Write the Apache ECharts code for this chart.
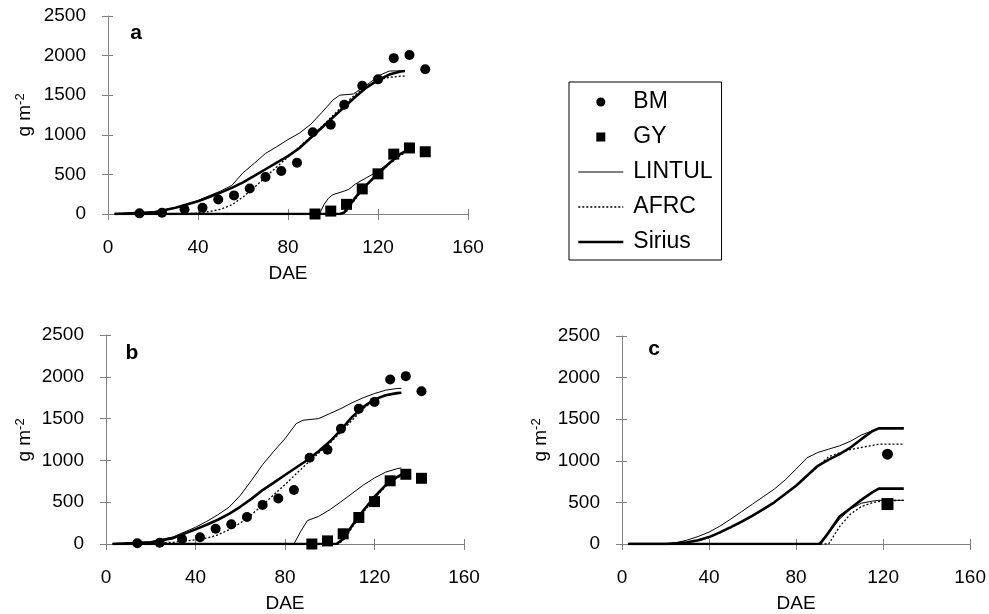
<!DOCTYPE html>
<html>
<head>
<meta charset="utf-8">
<script src="https://cdn.jsdelivr.net/npm/echarts@6/dist/echarts.min.js"></script>
<style>
html,body{margin:0;padding:0;background:#fff;}
#chart{width:989px;height:614px;}
</style>
</head>
<body>
<div id="chart"></div>
<script>
// ---------- Observed data (panels a and b share the same observations) ----------
const obsBM_DAE = [14, 24, 34, 42, 49, 56, 63, 70, 77, 84, 91, 99, 105, 113, 120, 127, 134, 141];
const obsBM = [8, 15, 60, 80, 183, 235, 323, 468, 544, 646, 1032, 1128, 1380, 1619, 1700, 1968, 2008, 1828];
const obsGY_DAE = [92, 99, 106, 113, 120, 127, 134, 141];
const obsGY = [0, 37, 122, 317, 507, 756, 834, 786];
// panel c observations
const cObs_DAE = [122];
const cObsBM = [1080];
const cObsGY = [480];

// ---------- Panel a model curves ----------
const aLintulBM_DAE = [3, 20, 30, 40, 45, 50, 55, 60, 65, 70, 75, 80, 85, 90, 95, 100, 103, 109, 115, 121, 125, 132];
const aLintulBM = [0, 25, 80, 170, 230, 290, 360, 520, 640, 765, 850, 940, 1020, 1130, 1280, 1440, 1500, 1515, 1630, 1755, 1805, 1808];
const aAfrcBM_DAE = [3, 30, 35, 40, 45, 50, 55, 60, 65, 70, 75, 80, 85, 90, 95, 100, 105, 110, 115, 120, 125, 130, 132];
const aAfrcBM = [0, 0, 5, 12, 30, 60, 115, 215, 335, 465, 595, 720, 845, 970, 1105, 1245, 1385, 1510, 1615, 1690, 1725, 1740, 1742];
const aSiriusBM_DAE = [3, 20, 30, 40, 45, 50, 55, 60, 65, 70, 75, 80, 85, 90, 95, 100, 105, 110, 115, 120, 125, 130, 132];
const aSiriusBM = [0, 20, 80, 160, 215, 270, 330, 400, 480, 565, 650, 730, 830, 960, 1090, 1220, 1350, 1480, 1600, 1690, 1760, 1800, 1805];
const aLintulGY_DAE = [3, 94, 96, 98, 100, 104, 107, 110, 115, 120, 125, 130, 132];
const aLintulGY = [0, 0, 120, 200, 245, 280, 310, 380, 460, 540, 650, 760, 800];
const aAfrcGY_DAE = [3, 104, 106, 108, 110, 113, 116, 120, 125, 130, 132];
const aAfrcGY = [0, 0, 30, 110, 190, 300, 390, 500, 630, 740, 770];
const aSiriusGY_DAE = [3, 103, 105, 107, 110, 113, 116, 120, 125, 130, 132];
const aSiriusGY = [0, 0, 20, 100, 210, 310, 400, 510, 640, 760, 790];

// ---------- Panel b model curves ----------
const bLintulBM_DAE = [3, 20, 30, 40, 45, 50, 55, 60, 65, 70, 75, 80, 85, 88, 95, 100, 105, 110, 115, 120, 125, 130, 132];
const bLintulBM = [0, 25, 85, 200, 270, 350, 440, 580, 760, 950, 1110, 1260, 1440, 1480, 1500, 1560, 1620, 1690, 1750, 1800, 1840, 1860, 1862];
const bAfrcBM_DAE = [3, 30, 35, 40, 45, 50, 55, 60, 65, 70, 75, 80, 85, 90, 95, 100, 105, 110, 115, 120, 125, 130, 132];
const bAfrcBM = [0, 20, 35, 50, 70, 110, 170, 250, 350, 465, 590, 710, 840, 965, 1085, 1205, 1340, 1480, 1620, 1720, 1775, 1800, 1802];
const bSiriusBM_DAE = [3, 20, 30, 40, 45, 50, 55, 60, 65, 70, 75, 80, 85, 90, 95, 100, 105, 110, 115, 120, 125, 130, 132];
const bSiriusBM = [0, 20, 70, 175, 230, 290, 360, 445, 540, 645, 735, 825, 915, 1005, 1110, 1225, 1365, 1520, 1640, 1730, 1780, 1805, 1810];
const bLintulGY_DAE = [3, 84, 87, 90, 95, 100, 105, 110, 115, 120, 125, 130, 132];
const bLintulGY = [0, 0, 150, 280, 330, 410, 505, 605, 705, 790, 860, 900, 910];
const bAfrcGY_DAE = [3, 104, 107, 110, 115, 120, 125, 130, 132];
const bAfrcGY = [0, 0, 70, 200, 380, 545, 690, 790, 815];
const bSiriusGY_DAE = [3, 103, 106, 110, 115, 120, 125, 130, 132];
const bSiriusGY = [0, 0, 60, 220, 400, 565, 705, 800, 830];

// ---------- Panel c model curves ----------
const cLintulBM_DAE = [3, 20, 25, 30, 35, 40, 45, 50, 55, 60, 65, 70, 75, 80, 85, 90, 95, 100, 105, 110, 115, 118, 129.5];
const cLintulBM = [0, 0, 16, 48, 90, 143, 215, 300, 390, 480, 570, 660, 770, 900, 1035, 1100, 1140, 1180, 1235, 1310, 1360, 1390, 1390];
const cAfrcBM_DAE = [3, 25, 30, 35, 40, 45, 50, 55, 60, 65, 70, 75, 80, 85, 90, 95, 100, 105, 110, 115, 118, 129.5];
const cAfrcBM = [0, 5, 18, 40, 78, 135, 195, 262, 335, 415, 498, 598, 700, 815, 930, 1050, 1095, 1135, 1160, 1185, 1200, 1200];
const cSiriusBM_DAE = [3, 20, 25, 30, 35, 40, 45, 50, 55, 60, 65, 70, 75, 80, 85, 90, 95, 100, 105, 110, 115, 118, 129.5];
const cSiriusBM = [0, 0, 8, 20, 45, 83, 140, 203, 270, 342, 420, 501, 600, 700, 820, 940, 1015, 1080, 1160, 1260, 1355, 1390, 1390];
const cLintulGY_DAE = [3, 90, 95, 100, 105, 110, 115, 118, 129.5];
const cLintulGY = [0, 0, 130, 300, 420, 490, 515, 525, 525];
const cAfrcGY_DAE = [3, 95, 100, 105, 110, 115, 120, 129.5];
const cAfrcGY = [0, 0, 210, 360, 450, 495, 520, 525];
const cSiriusGY_DAE = [3, 91, 95, 100, 105, 110, 115, 118, 129.5];
const cSiriusGY = [0, 0, 140, 330, 430, 530, 620, 665, 665];

// ---------- Axis ticks ----------
const xTicks = [0, 40, 80, 120, 160];
const yTicks = [0, 500, 1000, 1500, 2000, 2500];
const panelLabels = ['a', 'b', 'c'];
const legendNames = ['BM', 'GY', 'LINTUL', 'AFRC', 'Sirius'];

// ---------- Build chart ----------
const FONT = "'Liberation Sans', Arial, sans-serif";
const AX = '#808080';
const grids = [
  {left: 108, top: 16, width: 360, height: 198},
  {left: 106, top: 335, width: 358, height: 209},
  {left: 622, top: 336, width: 350, height: 209}
];
function pairs(xs, ys) { return xs.map((x, i) => [x, ys[i]]); }

const xAxes = [], yAxes = [];
grids.forEach((g, i) => {
  xAxes.push({
    type: 'value', gridIndex: i, min: xTicks[0], max: xTicks[xTicks.length - 1], interval: 40,
    axisLine: {lineStyle: {color: AX, width: 1}},
    axisTick: {show: true, inside: false, length: 6, lineStyle: {color: AX}},
    splitLine: {show: false},
    axisLabel: {color: '#000', fontSize: 19, fontFamily: FONT, margin: 24, formatter: v => String(v)},
    name: 'DAE', nameLocation: 'middle', nameGap: 50,
    nameTextStyle: {color: '#000', fontSize: 19, fontFamily: FONT}
  });
  yAxes.push({
    type: 'value', gridIndex: i, min: yTicks[0], max: yTicks[yTicks.length - 1], interval: 500,
    axisLine: {show: true, lineStyle: {color: AX, width: 1}},
    axisTick: {show: true, inside: false, length: 6, lineStyle: {color: AX}},
    splitLine: {show: false},
    axisLabel: {color: '#000', fontSize: 19, fontFamily: FONT, margin: 22, formatter: v => String(v)}
  });
});
// inside half of the crossing tick marks
grids.forEach((g, i) => {
  xAxes.push({
    type: 'value', gridIndex: i, min: 0, max: 160, interval: 40, position: 'bottom',
    axisLine: {show: false}, axisLabel: {show: false}, splitLine: {show: false},
    axisTick: {show: true, inside: true, length: 5, lineStyle: {color: AX}}
  });
  yAxes.push({
    type: 'value', gridIndex: i, min: 0, max: 2500, interval: 500, position: 'left',
    axisLine: {show: false}, axisLabel: {show: false}, splitLine: {show: false},
    axisTick: {show: true, inside: true, length: 5, lineStyle: {color: AX}}
  });
});

const thin = {color: '#000', width: 1, type: 'solid'};
const dotted = {color: '#000', width: 1.3, type: [2, 2]};
const thick = {color: '#000', width: 2.6, type: 'solid'};
function line(name, idx, xs, ys, style, z) {
  return {type: 'line', name, xAxisIndex: idx, yAxisIndex: idx, data: pairs(xs, ys),
    symbol: 'none', showSymbol: false, lineStyle: style, itemStyle: {color: '#000'},
    silent: true, z: z, animation: false};
}
function scatter(name, idx, xs, ys, symbol, size) {
  return {type: 'scatter', name, xAxisIndex: idx, yAxisIndex: idx, data: pairs(xs, ys),
    symbol, symbolSize: size, symbolKeepAspect: true, itemStyle: {color: '#000', opacity: 1}, z: 10, silent: true, animation: false};
}

const series = [
  // panel a
  line('LINTUL', 0, aLintulBM_DAE, aLintulBM, thin, 3),
  line('LINTUL', 0, aLintulGY_DAE, aLintulGY, thin, 3),
  line('AFRC', 0, aAfrcBM_DAE, aAfrcBM, dotted, 4),
  line('AFRC', 0, aAfrcGY_DAE, aAfrcGY, dotted, 4),
  line('Sirius', 0, aSiriusBM_DAE, aSiriusBM, thick, 5),
  line('Sirius', 0, aSiriusGY_DAE, aSiriusGY, thick, 5),
  scatter('BM', 0, obsBM_DAE, obsBM, 'circle', 10),
  scatter('GY', 0, obsGY_DAE, obsGY, 'rect', 11),
  // panel b
  line('LINTUL', 1, bLintulBM_DAE, bLintulBM, thin, 3),
  line('LINTUL', 1, bLintulGY_DAE, bLintulGY, thin, 3),
  line('AFRC', 1, bAfrcBM_DAE, bAfrcBM, dotted, 4),
  line('AFRC', 1, bAfrcGY_DAE, bAfrcGY, dotted, 4),
  line('Sirius', 1, bSiriusBM_DAE, bSiriusBM, thick, 5),
  line('Sirius', 1, bSiriusGY_DAE, bSiriusGY, thick, 5),
  scatter('BM', 1, obsBM_DAE, obsBM, 'circle', 10),
  scatter('GY', 1, obsGY_DAE, obsGY, 'rect', 11),
  // panel c
  line('LINTUL', 2, cLintulBM_DAE, cLintulBM, thin, 3),
  line('LINTUL', 2, cLintulGY_DAE, cLintulGY, thin, 3),
  line('AFRC', 2, cAfrcBM_DAE, cAfrcBM, dotted, 4),
  line('AFRC', 2, cAfrcGY_DAE, cAfrcGY, dotted, 4),
  line('Sirius', 2, cSiriusBM_DAE, cSiriusBM, thick, 5),
  line('Sirius', 2, cSiriusGY_DAE, cSiriusGY, thick, 5),
  scatter('BM', 2, cObs_DAE, cObsBM, 'circle', 11),
  scatter('GY', 2, cObs_DAE, cObsGY, 'rect', 12)
];

const ytitle = (x, y) => ({
  type: 'text', x: x, y: y, rotation: Math.PI / 2, silent: true,
  style: {
    text: '{m|g m}{s|-2}', fill: '#000', align: 'center', verticalAlign: 'middle',
    font: '19px ' + FONT,
    rich: {m: {fontSize: 19, fontFamily: FONT, fill: '#000'},
           s: {fontSize: 13, fontFamily: FONT, fill: '#000', verticalAlign: 'top', padding: [0, 0, 10, 0]}}
  }
});
const plabel = (x, y, t) => ({
  type: 'text', x: x, y: y, silent: true,
  style: {text: t, fill: '#000', align: 'center', verticalAlign: 'middle', font: 'bold 21px ' + FONT}
});

const hiddenSymbol = {color: 'rgba(0,0,0,0)', opacity: 0, borderWidth: 0};

const option = {
  animation: false,
  backgroundColor: '#fff',
  grid: grids.map(g => Object.assign({containLabel: false}, g)),
  xAxis: xAxes,
  yAxis: yAxes,
  legend: {
    orient: 'vertical', left: 569, top: 82,
    padding: [8, 9, 6, 8],
    itemWidth: 45, itemHeight: 9, itemGap: 11,
    symbolKeepAspect: true,
    borderColor: '#000', borderWidth: 1, backgroundColor: '#fff',
    selectedMode: false,
    textStyle: {color: '#000', fontSize: 23, fontFamily: FONT, lineHeight: 24, padding: [0, 0, 0, 5]},
    data: [
      {name: legendNames[0], icon: 'circle'},
      {name: legendNames[1], icon: 'path://M0,0L10,0L10,10L0,10Z'},
      {name: legendNames[2], itemStyle: hiddenSymbol, lineStyle: {width: 1, color: '#000', type: 'solid'}},
      {name: legendNames[3], itemStyle: hiddenSymbol, lineStyle: {width: 1.3, color: '#000', type: [2, 2]}},
      {name: legendNames[4], itemStyle: hiddenSymbol, lineStyle: {width: 2.6, color: '#000', type: 'solid'}}
    ]
  },
  graphic: [
    ytitle(25, 115), ytitle(25, 440), ytitle(541, 440),
    plabel(136, 33, panelLabels[0]), plabel(132, 353, panelLabels[1]), plabel(654, 349, panelLabels[2])
  ],
  series: series
};

const chart = echarts.init(document.getElementById('chart'), null, {renderer: 'canvas'});
chart.setOption(option);
</script>
</body>
</html>
